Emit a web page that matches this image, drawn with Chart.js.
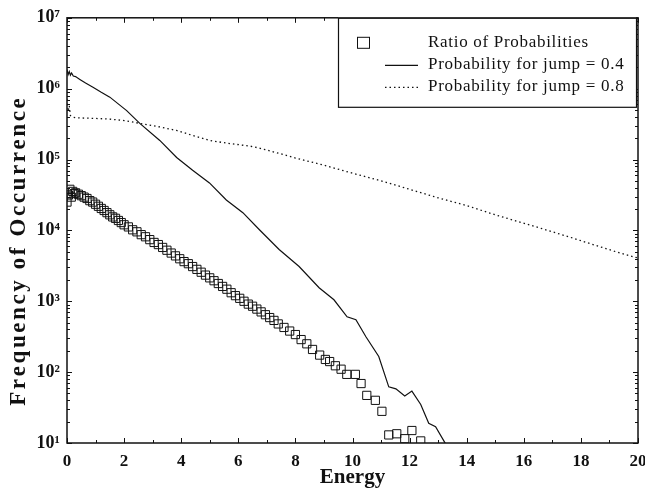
<!DOCTYPE html>
<html lang="en">
<head>
<meta charset="utf-8">
<title>Frequency of Occurrence vs Energy</title>
<script src="https://cdn.jsdelivr.net/npm/chart.js@4.4.1/dist/chart.umd.min.js"></script>
<style>
    html, body { margin: 0; padding: 0; background: #ffffff; }
    canvas { display: block; }
</style>
</head>
<body>
<canvas id="energyChart" width="645" height="493"></canvas>
<script>
// ========================================
// DATOS
// ========================================
const ratioEnergy = [
    0.00, 0.05, 0.10, 0.15, 0.20, 0.25, 0.30, 0.40, 0.50, 0.60, 0.70, 0.80, 0.90,
    1.00, 1.10, 1.20, 1.30, 1.40, 1.50, 1.60, 1.70, 1.80, 1.90, 2.00,
    2.15, 2.30, 2.45, 2.60, 2.75, 2.90, 3.05, 3.20, 3.35, 3.50, 3.65, 3.80, 3.95,
    4.10, 4.25, 4.40, 4.55, 4.70, 4.85, 5.00, 5.15, 5.30, 5.45, 5.60, 5.75, 5.90,
    6.05, 6.20, 6.35, 6.50, 6.65, 6.80, 6.95, 7.10, 7.25, 7.40, 7.60, 7.80, 8.00,
    8.20, 8.40, 8.60, 8.85, 9.05, 9.20, 9.40, 9.60, 9.80, 10.10, 10.30, 10.50,
    10.80, 11.03, 11.27, 11.55, 11.83, 12.08, 12.39
];
const ratioFreq = [
    25100, 31600, 38000, 29500, 35500, 33100, 33900, 32400, 30900, 29500, 28200, 26300, 25100,
    23400, 21900, 20400, 19100, 17800, 16600, 15500, 14800, 13800, 12900, 12000,
    11200, 10200, 9550, 8710, 8130, 7410, 6760, 6310, 5750, 5250, 4790, 4370, 3980,
    3630, 3390, 3090, 2820, 2570, 2340, 2140, 1950, 1780, 1620, 1480, 1320, 1200,
    1100, 1000, 912, 851, 776, 708, 646, 589, 537, 479, 427, 380, 339,
    288, 251, 209, 174, 151, 141, 123, 110, 93, 93, 69, 47,
    40, 28, 13, 13.5, 11.5, 15, 10.7
];

const jump04Energy = [
    0.00, 0.04, 0.08, 0.12, 0.16, 0.22, 0.30, 0.45, 0.65, 0.91, 1.20, 1.50, 2.09,
    2.55, 3.25, 3.84, 4.40, 4.99, 5.58, 6.16, 6.74, 7.43, 8.13, 8.83, 9.35, 9.81,
    10.12, 10.47, 10.92, 11.27, 11.52, 11.83, 12.08, 12.39, 12.67, 12.91, 13.23, 13.45
];
const jump04Freq = [
    1860000, 1580000, 1740000, 1550000, 1660000, 1510000, 1480000, 1350000, 1200000,
    1050000, 891000, 759000, 490000, 324000, 186000, 107000, 70800, 46800, 26900,
    17800, 10200, 5370, 3090, 1550, 1050, 603, 550, 316, 166, 62, 58, 46, 54, 35,
    19, 17, 10.2, 7.6
];

const jump08Energy = [
    0.00, 0.04, 0.08, 0.12, 0.20, 0.30, 0.60, 1.00, 1.50, 2.00, 2.55, 3.25, 3.84,
    4.40, 5.00, 5.60, 6.40, 6.74, 7.50, 8.00, 9.00, 9.88, 11.00, 12.00, 13.00,
    14.00, 15.00, 16.50, 17.50, 18.50, 19.30, 20.00
];
const jump08Freq = [
    708000, 479000, 575000, 417000, 398000, 389000, 385000, 380000, 372000, 355000,
    324000, 288000, 257000, 219000, 186000, 170000, 155000, 145000, 120000, 105000,
    83200, 66100, 50100, 38000, 28800, 22400, 16600, 11000, 8300, 6170, 4900, 4070
];

const xTicks = [0, 2, 4, 6, 8, 10, 12, 14, 16, 18, 20];
const yTicks = [10, 100, 1000, 10000, 100000, 1000000, 10000000];
const yTickLabels = ['10¹', '10²', '10³', '10⁴', '10⁵', '10⁶', '10⁷'];

const xTitle = 'Energy';
const yTitle = 'Frequency of Occurrence';
const seriesLabels = [
    'Ratio of Probabilities',
    'Probability for jump = 0.4',
    'Probability for jump = 0.8'
];

// ========================================
// AUXILIARES
// ========================================
const FONT = "'Liberation Serif', 'Times New Roman', serif";
const INK = '#111111';

function toPoints(xs, ys) {
    return xs.map((x, i) => ({ x: x, y: ys[i] }));
}

// texto con espaciado entre letras, carácter por carácter
function drawSpaced(ctx, text, x, y, spacing, centered) {
    const chars = Array.from(text);
    const widths = chars.map(c => ctx.measureText(c).width);
    const total = widths.reduce((s, w) => s + w, 0) + spacing * (chars.length - 1);
    let cx = centered ? x - total / 2 : x;
    ctx.textAlign = 'left';
    chars.forEach((c, i) => {
        ctx.fillText(c, cx, y);
        cx += widths[i] + spacing;
    });
}

// marco y marcas hacia adentro en los cuatro lados
const frameTicks = {
    id: 'frameTicks',
    afterDatasetsDraw(chart) {
        const { ctx, chartArea: a, scales } = chart;
        const xs = scales.x, ys = scales.y;
        ctx.save();
        ctx.strokeStyle = INK;
        ctx.lineWidth = 1;

        // eje x: mayores cada 2, menores en los impares
        for (let v = 0; v <= 20; v++) {
            const px = Math.round(xs.getPixelForValue(v)) + 0.5;
            const len = v % 2 === 0 ? 5 : 3;
            ctx.beginPath();
            ctx.moveTo(px, a.bottom); ctx.lineTo(px, a.bottom - len);
            ctx.moveTo(px, a.top); ctx.lineTo(px, a.top + len);
            ctx.stroke();
        }

        // eje y logarítmico
        for (let e = 1; e <= 7; e++) {
            for (let k = 1; k <= 9; k++) {
                const v = k * Math.pow(10, e);
                if (v > 1e7) break;
                const py = Math.round(ys.getPixelForValue(v)) + 0.5;
                const len = k === 1 ? 5 : 3;
                ctx.beginPath();
                ctx.moveTo(a.left, py); ctx.lineTo(a.left + len, py);
                ctx.moveTo(a.right, py); ctx.lineTo(a.right - len, py);
                ctx.stroke();
            }
        }

        ctx.lineWidth = 1.5;
        ctx.strokeRect(a.left, a.top, a.right - a.left, a.bottom - a.top);
        ctx.restore();
    }
};

// título del eje y (más espaciado, como en la figura)
const yTitlePlugin = {
    id: 'yTitlePlugin',
    afterDraw(chart) {
        const { ctx } = chart;
        ctx.save();
        ctx.translate(19, 252);
        ctx.rotate(-Math.PI / 2);
        ctx.font = 'bold 23px ' + FONT;
        ctx.fillStyle = INK;
        ctx.textBaseline = 'middle';
        drawSpaced(ctx, yTitle, 0, 0, 2.6, true);
        ctx.restore();
    }
};

// leyenda con recuadro, arriba a la derecha
const legendBox = {
    id: 'legendBox',
    afterDraw(chart) {
        const { ctx, chartArea: a } = chart;
        const w = 298, h = 89;
        const x0 = a.right - w - 2, y0 = a.top;
        const rows = [25, 47, 69];
        const ds = chart.data.datasets;

        ctx.save();
        ctx.fillStyle = '#ffffff';
        ctx.fillRect(x0, y0, w, h);
        ctx.strokeStyle = INK;
        ctx.lineWidth = 1.2;
        ctx.strokeRect(x0 + 0.5, y0 + 0.5, w, h);

        // cuadrado
        ctx.lineWidth = 1;
        ctx.strokeRect(x0 + 19.5, y0 + rows[0] - 5.5, 12, 11);

        // líneas
        [1, 2].forEach(i => {
            ctx.beginPath();
            ctx.setLineDash(ds[i].borderDash || []);
            ctx.lineWidth = ds[i].borderWidth;
            ctx.moveTo(x0 + 47, y0 + rows[i] + 0.5);
            ctx.lineTo(x0 + 80, y0 + rows[i] + 0.5);
            ctx.stroke();
        });
        ctx.setLineDash([]);

        ctx.fillStyle = INK;
        ctx.font = '17px ' + FONT;
        ctx.textBaseline = 'middle';
        seriesLabels.forEach((t, i) => drawSpaced(ctx, t, x0 + 90, y0 + rows[i], 0.7, false));
        ctx.restore();
    }
};

// ========================================
// GRÁFICO
// ========================================
const ctx = document.getElementById('energyChart').getContext('2d');
const energyChart = new Chart(ctx, {
    type: 'scatter',
    data: {
        datasets: [
            {
                label: seriesLabels[0],
                data: toPoints(ratioEnergy, ratioFreq),
                showLine: false,
                pointStyle: 'rect',
                pointRadius: 5.8,
                borderColor: INK,
                borderWidth: 1,
                backgroundColor: 'rgba(0,0,0,0)'
            },
            {
                label: seriesLabels[1],
                data: toPoints(jump04Energy, jump04Freq),
                showLine: true,
                pointRadius: 0,
                borderColor: INK,
                borderWidth: 1.2,
                tension: 0
            },
            {
                label: seriesLabels[2],
                data: toPoints(jump08Energy, jump08Freq),
                showLine: true,
                pointRadius: 0,
                borderColor: INK,
                borderWidth: 1.3,
                borderDash: [1.5, 3],
                tension: 0
            }
        ]
    },
    options: {
        responsive: false,
        animation: false,
        layout: { padding: { left: 0, top: 17, right: 7, bottom: 0 } },
        plugins: {
            legend: { display: false },
            tooltip: { enabled: false }
        },
        scales: {
            x: {
                type: 'linear',
                min: 0,
                max: 20,
                afterBuildTicks: axis => { axis.ticks = xTicks.map(v => ({ value: v })); },
                afterFit: axis => {
                    axis.height = 50;
                    axis.paddingRight = 0;
                },
                grid: { display: false, drawTicks: false },
                border: { display: false },
                ticks: {
                    padding: 8,
                    maxRotation: 0,
                    autoSkip: false,
                    color: INK,
                    font: { family: FONT, size: 17, weight: 'bold' }
                },
                title: {
                    display: true,
                    text: xTitle,
                    color: INK,
                    padding: { top: 0, bottom: 3 },
                    font: { family: FONT, size: 21, weight: 'bold' }
                }
            },
            y: {
                type: 'logarithmic',
                min: 10,
                max: 10000000,
                afterBuildTicks: axis => { axis.ticks = yTicks.map(v => ({ value: v })); },
                afterFit: axis => { axis.width = 67; },
                grid: { display: false, drawTicks: false },
                border: { display: false },
                ticks: {
                    padding: 7,
                    color: INK,
                    font: { family: FONT, size: 18, weight: 'bold' },
                    callback: (value, index) => yTickLabels[index]
                },
                title: { display: false }
            }
        }
    },
    plugins: [frameTicks, yTitlePlugin, legendBox]
});
</script>
</body>
</html>
